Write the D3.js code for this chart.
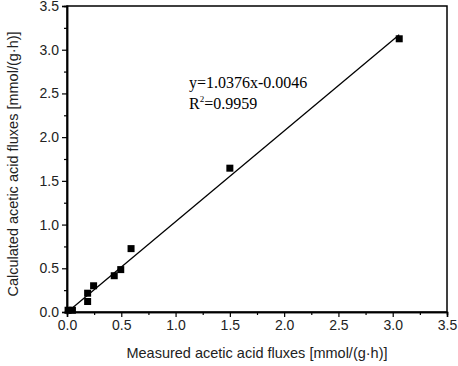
<!DOCTYPE html>
<html><head><meta charset="utf-8">
<script src="https://cdn.jsdelivr.net/npm/d3@7"></script>
<style>body{margin:0;background:#fff}</style>
</head><body>
<svg id="c" width="458" height="366"></svg>
<script>
const measured   = [0.01, 0.05, 0.19, 0.19, 0.245, 0.435, 0.495, 0.59, 1.50, 3.06];
const calculated = [0.02, 0.02, 0.12, 0.215, 0.30, 0.415, 0.485, 0.725, 1.645, 3.125];
const slope = 1.0376, intercept = -0.0046;
const ticks = [0, 0.5, 1.0, 1.5, 2.0, 2.5, 3.0, 3.5];
const minorTicks = [0.25, 0.75, 1.25, 1.75, 2.25, 2.75, 3.25];
const xTitle = "Measured acetic acid fluxes [mmol/(g·h)]";
const yTitle = "Calculated acetic acid fluxes [mmol/(g·h)]";

const svg = d3.select("#c");
const L = 67, R = 447, T = 6, B = 312;
const x = d3.scaleLinear().domain([0, 3.5]).range([L, R]);
const y = d3.scaleLinear().domain([0, 3.5]).range([B, T]);
const font = "'Liberation Sans', Arial, sans-serif";

// frame
svg.append("rect").attr("x", L).attr("y", T).attr("width", R - L).attr("height", B - T)
  .attr("fill", "none").attr("stroke", "#000").attr("stroke-width", 1.5);

const xAxis = svg.append("g").attr("transform", `translate(0,${B})`)
  .call(d3.axisBottom(x).tickValues(ticks).tickFormat(d3.format(".1f")).tickSize(5).tickPadding(3));
const xMinor = svg.append("g").attr("transform", `translate(0,${B})`)
  .call(d3.axisBottom(x).tickValues(minorTicks).tickFormat("").tickSize(3));
const yAxis = svg.append("g").attr("transform", `translate(${L},0)`)
  .call(d3.axisLeft(y).tickValues(ticks).tickFormat(d3.format(".1f")).tickSize(5).tickPadding(3));
const yMinor = svg.append("g").attr("transform", `translate(${L},0)`)
  .call(d3.axisLeft(y).tickValues(minorTicks).tickFormat("").tickSize(3));
[xAxis, xMinor, yAxis, yMinor].forEach(g => {
  g.select(".domain").attr("stroke-width", 1.5);
  g.selectAll(".tick line").attr("stroke-width", 1.2);
  g.selectAll("text").attr("font-family", font).attr("font-size", 14).attr("fill", "#222");
});

// fit line
const x0 = d3.min(measured), x1 = d3.max(measured);
svg.append("line")
  .attr("x1", x(x0)).attr("y1", y(slope * x0 + intercept))
  .attr("x2", x(x1)).attr("y2", y(slope * x1 + intercept))
  .attr("stroke", "#000").attr("stroke-width", 1.3);

// points
const s = 7;
svg.append("g").selectAll("rect").data(measured.map((m, i) => [m, calculated[i]]))
  .join("rect")
  .attr("x", d => x(d[0]) - s / 2).attr("y", d => y(d[1]) - s / 2)
  .attr("width", s).attr("height", s).attr("fill", "#000");

// equation
const eq = svg.append("g").attr("font-family", "'Liberation Serif', 'Times New Roman', serif")
  .attr("font-size", 16).attr("fill", "#000");
eq.append("text").attr("x", 189).attr("y", 88).text("y=1.0376x-0.0046");
const r2 = eq.append("text").attr("x", 189).attr("y", 109);
r2.append("tspan").text("R");
r2.append("tspan").attr("dy", -7).attr("font-size", 9).text("2");
r2.append("tspan").attr("dy", 7).text("=0.9959");

// titles
svg.append("text").attr("x", 257).attr("y", 358).attr("text-anchor", "middle")
  .attr("font-family", font).attr("font-size", 14.5).attr("fill", "#222").text(xTitle);
svg.append("text").attr("transform", `translate(18,164) rotate(-90)`)
  .attr("text-anchor", "middle").attr("font-family", font).attr("font-size", 14.5)
  .attr("fill", "#222").text(yTitle);
</script>
</body></html>
